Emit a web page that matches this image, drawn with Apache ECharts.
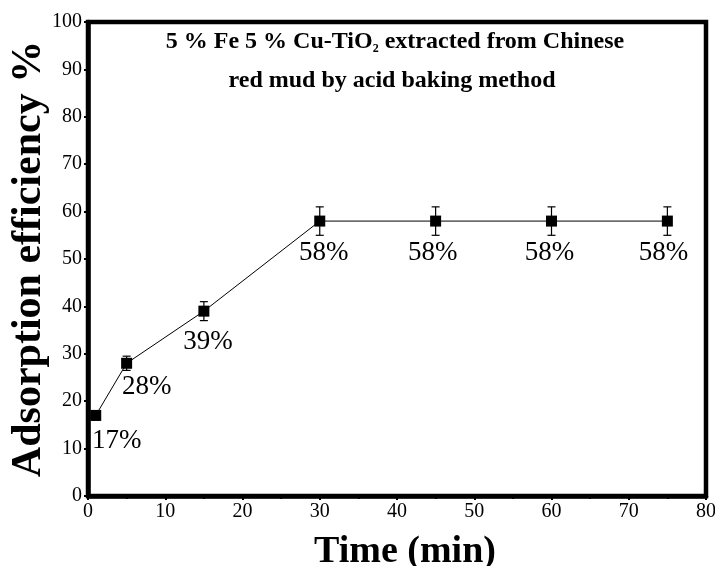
<!DOCTYPE html>
<html>
<head>
<meta charset="utf-8">
<script src="https://cdn.jsdelivr.net/npm/echarts@6/dist/echarts.min.js"></script>
<style>
  html, body { margin: 0; padding: 0; background: #fff; }
  #chart { width: 715px; height: 566px; }
</style>
</head>
<body>
<div id="chart"></div>
<script>
// Adsorption efficiency over contact time
const times = [1, 5, 15, 30, 45, 60, 75];
const efficiency = [17, 28, 39, 58, 58, 58, 58];
const errors = [1, 1.5, 2, 3, 3, 3, 3];
const xTicks = [0, 10, 20, 30, 40, 50, 60, 70, 80];
const yTicks = [0, 10, 20, 30, 40, 50, 60, 70, 80, 90, 100];

// label placement relative to each marker (pixels)
const labelShift = [[21, 25], [20, 24], [4, 31], [4, 32], [-3, 32], [-2, 32], [-4, 32]];

const serif = '"Liberation Serif", "Times New Roman", serif';

const points = times.map((t, i) => ({
  value: [t, efficiency[i]],
  label: { offset: labelShift[i] }
}));

const errData = times.map((t, i) => [t, efficiency[i], errors[i]]);

const chart = echarts.init(document.getElementById('chart'));
chart.setOption({
  animation: false,
  backgroundColor: '#fff',
  grid: {
    left: 88, right: 9, top: 22, bottom: 70,
    containLabel: false, outerBoundsMode: 'none',
    show: true, borderColor: '#000', borderWidth: 4.5, backgroundColor: 'transparent'
  },
  xAxis: {
    type: 'value', min: 0, max: 80, interval: 10,
    name: 'Time (min)', nameLocation: 'middle', nameGap: 37,
    nameTextStyle: { fontFamily: serif, fontWeight: 'bold', fontSize: 38, color: '#000', padding: [0, 0, 0, 16] },
    axisLine: { show: true, lineStyle: { color: '#000', width: 4.5 } },
    axisTick: { show: true, length: 4, lineStyle: { color: '#000', width: 2 } },
    minorTick: { show: true, splitNumber: 2, length: 3, lineStyle: { color: '#000', width: 2 } },
    axisLabel: {
      fontFamily: serif, fontSize: 20, color: '#000', margin: 6,
      formatter: v => xTicks.includes(v) ? String(v) : ''
    },
    splitLine: { show: false }
  },
  yAxis: {
    type: 'value', min: 0, max: 100, interval: 10,
    name: 'Adsorption efficiency %', nameLocation: 'middle', nameGap: 38,
    nameMoveOverlap: false,
    nameTextStyle: { fontFamily: serif, fontWeight: 'bold', fontSize: 42, color: '#000' },
    axisLine: { show: true, lineStyle: { color: '#000', width: 4.5 } },
    axisTick: { show: true, length: 4, lineStyle: { color: '#000', width: 2 } },
    axisLabel: {
      fontFamily: serif, fontSize: 20, color: '#000', margin: 6,
      formatter: v => yTicks.includes(v) ? String(v) : ''
    },
    splitLine: { show: false }
  },
  graphic: [{
    type: 'text',
    x: 395, y: 42,
    style: {
      text: '{b|5 % Fe 5 % Cu-TiO}{s|2}{b| extracted from Chinese}',
      align: 'center', verticalAlign: 'middle',
      rich: {
        b: { fontFamily: serif, fontWeight: 'bold', fontSize: 24, fill: '#000' },
        s: { fontFamily: serif, fontWeight: 'bold', fontSize: 12, fill: '#000', padding: [14, 0, 0, 0] }
      }
    }
  }, {
    type: 'text',
    x: 392, y: 81,
    style: {
      text: 'red mud by acid baking method',
      align: 'center', verticalAlign: 'middle',
      fontFamily: serif, fontWeight: 'bold', fontSize: 24, fill: '#000'
    }
  }],
  series: [{
    type: 'line',
    data: points,
    symbol: 'rect', symbolSize: 11,
    itemStyle: { color: '#000' },
    lineStyle: { color: '#000', width: 1 },
    label: {
      show: true, position: 'inside',
      fontFamily: serif, fontSize: 27, color: '#000',
      formatter: p => p.value[1] + '%'
    },
    z: 3
  }, {
    type: 'custom',
    data: errData,
    renderItem: (params, api) => {
      const x = api.value(0), y = api.value(1), e = api.value(2);
      const top = api.coord([x, y + e]);
      const bot = api.coord([x, y - e]);
      const hw = 4;
      const style = { stroke: '#000', lineWidth: 1.2 };
      return {
        type: 'group',
        children: [
          { type: 'line', shape: { x1: top[0], y1: top[1], x2: bot[0], y2: bot[1] }, style },
          { type: 'line', shape: { x1: top[0] - hw, y1: top[1], x2: top[0] + hw, y2: top[1] }, style },
          { type: 'line', shape: { x1: bot[0] - hw, y1: bot[1], x2: bot[0] + hw, y2: bot[1] }, style }
        ]
      };
    },
    z: 2
  }]
});
</script>
</body>
</html>
